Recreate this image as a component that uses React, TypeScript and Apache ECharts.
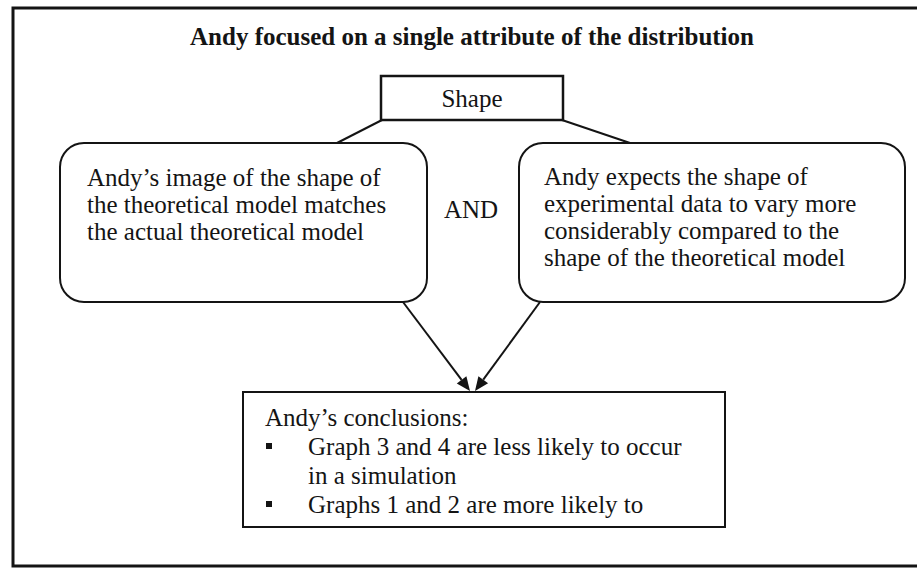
import React, { useEffect, useRef } from "react";
import * as echarts from "echarts";

const titleText = "Andy focused on a single attribute of the distribution";
const shapeLabel = "Shape";
const andLabel = "AND";
const leftBoxLines = [
  "Andy\u2019s image of the shape of",
  "the theoretical model matches",
  "the actual theoretical model",
];
const rightBoxLines = [
  "Andy expects the shape of",
  "experimental data to vary more",
  "considerably compared to the",
  "shape of the theoretical model",
];
const conclusionsHeading = "Andy\u2019s conclusions:";
const conclusionBullets = [
  ["Graph 3 and 4 are less likely to occur", "in a simulation"],
  ["Graphs 1 and 2 are more likely to"],
];

const SERIF = "Liberation Serif";
const INK = "#141414";
const BODY = 25;

function txt(text: string, x: number, y: number, size: number, align = "left", weight = "normal") {
  return {
    type: "text",
    style: {
      text,
      x,
      y,
      align,
      verticalAlign: "middle",
      fontFamily: SERIF,
      fontSize: size,
      fontWeight: weight,
      fill: INK,
    },
  };
}

function arrow(x1: number, y1: number, x2: number, y2: number) {
  const dx = x2 - x1;
  const dy = y2 - y1;
  const len = Math.sqrt(dx * dx + dy * dy);
  const ux = dx / len;
  const uy = dy / len;
  const headLen = 14;
  const headW = 6;
  const bx = x2 - ux * headLen;
  const by = y2 - uy * headLen;
  const px = -uy;
  const py = ux;
  return [
    {
      type: "line",
      shape: { x1, y1, x2: bx, y2: by },
      style: { stroke: INK, lineWidth: 2 },
    },
    {
      type: "polygon",
      shape: {
        points: [
          [x2, y2],
          [bx + px * headW, by + py * headW],
          [bx - px * headW, by - py * headW],
        ],
      },
      style: { fill: INK },
    },
  ];
}

export default function App() {
  const ref = useRef<HTMLDivElement>(null);
  useEffect(() => {
    if (!ref.current) return;
    const chart = echarts.init(ref.current, undefined, { renderer: "svg" });
    const els: any[] = [];
    els.push({
      type: "polyline",
      shape: { points: [[930, 8], [13, 8], [13, 566], [930, 566]] },
      style: { stroke: INK, lineWidth: 3, fill: "none" },
    });
    els.push(txt(titleText, 472, 36, 25, "center", "bold"));
    els.push({
      type: "rect",
      shape: { x: 381, y: 76, width: 182, height: 44 },
      style: { stroke: INK, lineWidth: 2.5, fill: "#fff" },
    });
    els.push(txt(shapeLabel, 472, 98, BODY, "center"));
    els.push({
      type: "line",
      shape: { x1: 382, y1: 120, x2: 337, y2: 143 },
      style: { stroke: INK, lineWidth: 2 },
    });
    els.push({
      type: "line",
      shape: { x1: 562, y1: 120, x2: 630, y2: 143 },
      style: { stroke: INK, lineWidth: 2 },
    });
    els.push({
      type: "rect",
      shape: { x: 60, y: 143, width: 367, height: 159, r: 24 },
      style: { stroke: INK, lineWidth: 2, fill: "none" },
    });
    leftBoxLines.forEach((t, i) => els.push(txt(t, 87, 177 + i * 27, BODY)));
    els.push(txt(andLabel, 471, 209, BODY, "center"));
    els.push({
      type: "rect",
      shape: { x: 519, y: 143, width: 386, height: 159, r: 24 },
      style: { stroke: INK, lineWidth: 2, fill: "none" },
    });
    rightBoxLines.forEach((t, i) => els.push(txt(t, 544, 176 + i * 27, BODY)));
    els.push(...arrow(403, 302, 470, 391));
    els.push(...arrow(540, 302, 475, 391));
    els.push({
      type: "rect",
      shape: { x: 243, y: 392, width: 482, height: 135 },
      style: { stroke: INK, lineWidth: 2, fill: "none" },
    });
    els.push(txt(conclusionsHeading, 265, 417, BODY));
    let row = 1;
    conclusionBullets.forEach((lines) => {
      els.push({
        type: "rect",
        shape: { x: 266, y: 417 + row * 29 - 3, width: 6, height: 6 },
        style: { fill: INK },
      });
      lines.forEach((t) => {
        els.push(txt(t, 308, 417 + row * 29, BODY));
        row += 1;
      });
    });

    chart.setOption({
      animation: false,
      backgroundColor: "#ffffff",
      graphic: { elements: els },
    });
    return () => chart.dispose();
  }, []);
  return (
    <div
      ref={ref}
      style={{ position: "fixed", left: 0, top: 0, width: 917, height: 569 }}
    />
  );
}
